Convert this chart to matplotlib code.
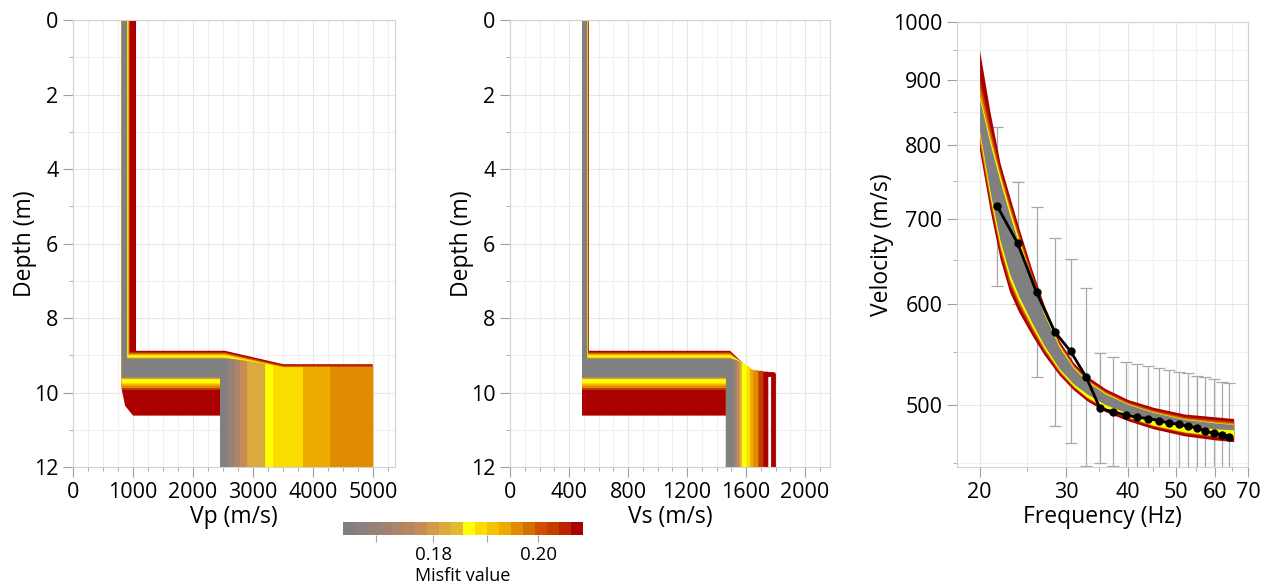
import matplotlib
matplotlib.use("Agg")
import matplotlib.pyplot as plt
from matplotlib.colors import ListedColormap, LogNorm
from matplotlib.cm import ScalarMappable
from matplotlib.ticker import FixedLocator, MultipleLocator, NullFormatter, NullLocator

plt.rcParams['font.family'] = ['Open Sans', 'DejaVu Sans']

# Misfit colour scale (grey -> yellow -> dark red, 20 steps, log scale)
palette = ['#808080', '#8a807e', '#96807a', '#a08273', '#ac8469', '#b9875f', '#c68c55',
           '#d29b46', '#daaa3c', '#e1b932', '#ffff00', '#fadc00', '#f3c300', '#eeaa00',
           '#e18c00', '#d76e00', '#cd5000', '#c33c00', '#b92300', '#aa0000']
misfit_min, misfit_max = 0.1644, 0.2092

# Ground model families, worst misfit first (one layer over a half space)
misfit = [0.2080, 0.2030, 0.1958, 0.1934, 0.1888, 0.1866, 0.1821, 0.1778, 0.1736, 0.1694, 0.1654]
depth_top = [8.88, 8.92, 8.95, 8.97, 8.99, 9.01, 9.06, 9.08, 9.09, 9.10, 9.11]
depth_bot = [10.62, 9.93, 9.88, 9.82, 9.78, 9.74, 9.64, 9.62, 9.60, 9.59, 9.58]

vp1_min = [812, 812, 812, 812, 812, 812, 812, 812, 812, 812, 812]
vp1_max = [1050, 945, 935, 925, 920, 915, 905, 895, 895, 895, 895]
vp1_deep = [1000, 812, 812, 812, 812, 812, 812, 812, 812, 812, 812]
vp2_min = [2450, 2450, 2450, 2450, 2450, 2450, 2450, 2450, 2450, 2450, 2450]
vp2_max = [4990, 4990, 5000, 4280, 3830, 3330, 3200, 2900, 2780, 2680, 2570]
vp_depth_far = [9.24, 9.27, 9.31, 9.31, 9.32, 9.33, 9.30, 9.28, 9.27, 9.26, 9.26]
vp_knee, vp_ramp_end = 2530, 3500

vs1_min = [488, 488, 488, 488, 488, 488, 488, 488, 488, 488, 488]
vs1_max = [535, 532, 530, 528, 527, 526, 524, 522, 522, 522, 522]
vs2_min = [1464, 1464, 1464, 1464, 1464, 1464, 1464, 1464, 1464, 1464, 1464]
vs2_max = [1751, 1718, 1684, 1650, 1628, 1605, 1571, 1556, 1541, 1527, 1514]
vs_depth_far = [9.44, 9.42, 9.40, 9.38, 9.36, 9.35, 9.32, 9.28, 9.25, 9.22, 9.20]
vs_knee, vs_ramp_end = 1492, 1640

# one stray model of the worst group
out_misfit, out_h, out_vp1, out_vp2, out_vs1, out_vs2 = 0.2080, 9.50, 900, 4900, 510, 1786

# Dispersion curves: envelopes of each misfit group
curve_freq = [20, 21, 22, 23, 24, 25.5, 27, 29, 31, 33, 36, 40, 45, 52, 60, 65.5]
curve_misfit = [0.2080, 0.2030, 0.1958, 0.1866, 0.1654]
curve_hi = [
    [950, 850, 775, 730, 690, 640, 600, 562, 540, 527, 515, 505, 498, 492, 489.5, 488],
    [904, 828, 766, 721, 683, 635, 596, 559.5, 538, 524.7, 512.9, 502.9, 495.9, 489.7, 487.1, 485.6],
    [889, 817, 760, 716, 678.5, 631.7, 594, 558.2, 536.8, 523.7, 511.8, 501.9, 494.7, 488.5, 485.6, 484.1],
    [875, 809, 756.5, 712.5, 675.4, 629.4, 592.4, 557.1, 535.8, 522.8, 510.9, 501, 493.8, 487.6, 484.6, 482.9],
    [870, 803, 750, 706.4, 670.2, 625.6, 589.8, 555.4, 534.7, 521.9, 510.1, 500.6, 493.4, 487.2, 484.2, 482.7],
]
curve_lo = [
    [793, 712, 652, 614, 592, 568, 548, 528, 514, 504, 494, 486, 479, 473, 469.5, 468],
    [801, 721, 660, 621.5, 598.4, 572.8, 551.5, 530.3, 516, 506.3, 496.1, 488, 481.1, 475.2, 471.9, 470.4],
    [807, 726, 664.5, 625.8, 602.1, 575.5, 553.5, 531.6, 517.1, 506.9, 496.9, 488.8, 481.8, 476, 472.8, 471.3],
    [815.6, 730, 668, 629, 604.8, 577.6, 555, 532.6, 517.6, 507.4, 497.3, 489.2, 482.2, 476.4, 473.2, 471.7],
    [821, 736, 674, 634.5, 609.5, 581, 557.5, 534.3, 519.6, 510.3, 500.4, 492.6, 486.3, 481.3, 479, 478.1],
]

# Measured dispersion curve with error bars
obs_freq = [21.7, 23.9, 26.1, 28.4, 30.6, 32.9, 35.1, 37.3, 39.6, 41.8,
            44.0, 46.3, 48.5, 50.7, 53.0, 55.2, 57.4, 59.7, 61.9, 64.1]
obs_vel = [717, 670, 613, 571, 551, 526, 497, 494, 491, 489,
           488, 486, 484, 483, 481, 480, 477, 475, 474, 472]
obs_hi = [827, 749, 715, 676, 651, 618, 549, 545, 541, 539,
          537, 535, 533, 531, 530, 527, 526, 524, 521, 520]
obs_lo = [620, 600, 526, 481, 467, 448, 450, 448, 443, 442,
          441, 440, 439, 438, 437, 436, 435, 434, 433, 432]

cmap = ListedColormap(palette)
norm = LogNorm(vmin=misfit_min, vmax=misfit_max)
max_depth = 12


def profile_outline(v1_lo, v1_hi, v1_deep, h_top, h_bot, h_far, v2_lo, v2_hi, knee, ramp_end):
    # union of all step profiles of one group
    pts = [(v1_lo, 0), (v1_hi, 0), (v1_hi, h_top)]
    if v2_hi <= knee:
        pts.append((v2_hi, h_top))
    elif v2_hi <= ramp_end:
        pts.append((knee, h_top))
        pts.append((v2_hi, h_top + (h_far - h_top) * (v2_hi - knee) / (ramp_end - knee)))
    else:
        pts += [(knee, h_top), (ramp_end, h_far), (v2_hi, h_far)]
    pts += [(v2_hi, max_depth), (v2_lo, max_depth), (v2_lo, h_bot), (v1_deep, h_bot),
            (v1_lo + 0.3 * (v1_deep - v1_lo), h_top + 0.85 * (h_bot - h_top)),
            (v1_lo, h_top + 0.6 * (h_bot - h_top))]
    return [p[0] for p in pts], [p[1] for p in pts]


fig = plt.figure(figsize=(12.65, 5.85), dpi=100)
ax_vp = fig.add_axes([0.0577, 0.2017, 0.2545, 0.7641])
ax_vs = fig.add_axes([0.4032, 0.2017, 0.2530, 0.7641])
ax_dc = fig.add_axes([0.7565, 0.2017, 0.2300, 0.7607])
cax = fig.add_axes([0.2711, 0.0855, 0.1897, 0.0222])

# Vp and Vs profiles
for i in range(len(misfit)):
    col = cmap(norm(misfit[i]))
    x, y = profile_outline(vp1_min[i], vp1_max[i], vp1_deep[i], depth_top[i], depth_bot[i],
                           vp_depth_far[i], vp2_min[i], vp2_max[i], vp_knee, vp_ramp_end)
    ax_vp.fill(x, y, color=col, lw=0, zorder=2)
    x, y = profile_outline(vs1_min[i], vs1_max[i], vs1_min[i], depth_top[i], depth_bot[i],
                           vs_depth_far[i], vs2_min[i], vs2_max[i], vs_knee, vs_ramp_end)
    ax_vs.fill(x, y, color=col, lw=0, zorder=2)
    if i == 0:
        ocol = cmap(norm(out_misfit))
        ax_vp.plot([out_vp1, out_vp1, out_vp2, out_vp2], [0, out_h, out_h, max_depth],
                   color=ocol, lw=3.5, zorder=2)
        ax_vs.plot([out_vs1, out_vs1, out_vs2, out_vs2], [0, out_h, out_h, max_depth],
                   color=ocol, lw=3.5, zorder=2)

# dispersion curves
ax_dc.errorbar(obs_freq, obs_vel,
               yerr=[[v - lo for v, lo in zip(obs_vel, obs_lo)],
                     [hi - v for v, hi in zip(obs_vel, obs_hi)]],
               fmt='none', ecolor='#a8a8a8', elinewidth=0.9, capsize=4, capthick=0.9, zorder=1)
for i in range(len(curve_misfit)):
    ax_dc.fill_between(curve_freq, curve_lo[i], curve_hi[i], color=cmap(norm(curve_misfit[i])),
                       lw=0, zorder=2)
ax_dc.plot(obs_freq, obs_vel, color='black', lw=2, marker='o', ms=5, zorder=4)

# axes styling
for ax in (ax_vp, ax_vs, ax_dc):
    for s in ax.spines.values():
        s.set_color('#d2d2d2')
    ax.set_axisbelow(True)
    ax.grid(which='major', color='#e6e6e6', lw=0.8)
    ax.grid(which='minor', color='#f0f0f0', lw=0.8)
    ax.tick_params(which='major', length=7, color='#a0a0a0', labelsize=15.5, labelcolor='black')
    ax.tick_params(which='minor', length=3, color='#a0a0a0')

ax_vp.set_xlim(0, 5360)
ax_vp.xaxis.set_major_locator(MultipleLocator(1000))
ax_vp.xaxis.set_minor_locator(MultipleLocator(250))
ax_vs.set_xlim(0, 2170)
ax_vs.xaxis.set_major_locator(MultipleLocator(400))
ax_vs.xaxis.set_minor_locator(MultipleLocator(100))
for ax in (ax_vp, ax_vs):
    ax.set_ylim(max_depth, 0)
    ax.yaxis.set_major_locator(MultipleLocator(2))
    ax.yaxis.set_minor_locator(MultipleLocator(1))
    ax.set_ylabel('Depth (m)', fontsize=16.5, labelpad=-2)
ax_vp.set_xlabel('Vp (m/s)', fontsize=16.5, labelpad=2)
ax_vs.set_xlabel('Vs (m/s)', fontsize=16.5, labelpad=2)

ax_dc.set_xscale('log')
ax_dc.set_yscale('log')
ax_dc.set_xlim(18, 70)
ax_dc.set_ylim(447, 1000)
ax_dc.set_xticks([20, 30, 40, 50, 60, 70], labels=['20', '30', '40', '50', '60', '70'])
ax_dc.xaxis.set_minor_locator(FixedLocator([25, 35, 45, 55, 65]))
ax_dc.xaxis.set_minor_formatter(NullFormatter())
ax_dc.set_yticks([500, 600, 700, 800, 900, 1000], labels=['500', '600', '700', '800', '900', '1000'])
ax_dc.yaxis.set_minor_locator(FixedLocator([450, 550, 650, 750, 850, 950]))
ax_dc.yaxis.set_minor_formatter(NullFormatter())
ax_dc.set_xlabel('Frequency (Hz)', fontsize=16.5, labelpad=2)
ax_dc.set_ylabel('Velocity (m/s)', fontsize=16.5, labelpad=-1)

# colour bar
sm = ScalarMappable(norm=norm, cmap=cmap)
cb = fig.colorbar(sm, cax=cax, orientation='horizontal')
cb.outline.set_visible(False)
cb.set_ticks([0.17, 0.18, 0.19, 0.20])
cb.set_ticklabels(['', '0.18', '', '0.20'])
cax.xaxis.set_minor_locator(NullLocator())
cax.tick_params(length=5, color='#a0a0a0', labelsize=13.5, pad=3)
cb.set_label('Misfit value', fontsize=13, labelpad=2)

fig.savefig('out.png', dpi=100)
